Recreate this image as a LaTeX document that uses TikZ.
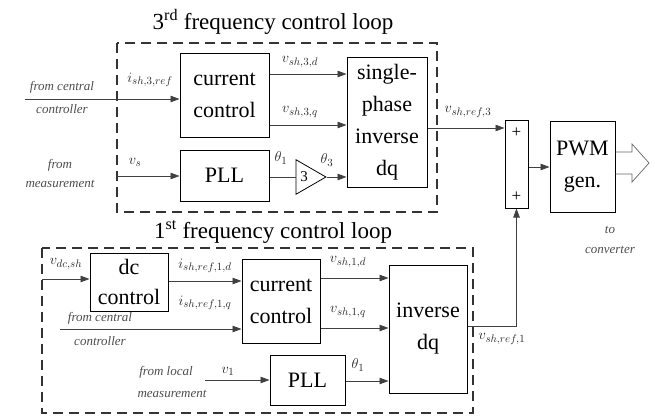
\documentclass[tikz,border=0pt]{standalone}
\usepackage{fontspec}
\setmainfont{Liberation Serif}
\usetikzlibrary{arrows.meta,shapes.geometric}
\begin{document}
\begin{tikzpicture}[x=1pt,y=-1pt,
 blk/.style={draw, line width=1pt, align=center, font=\fontsize{22}{32}\selectfont, inner sep=0pt},
 sig/.style={draw=black!75, line width=0.7pt, -{Triangle[length=9pt,width=6.5pt]}},
 wire/.style={draw=black!75, line width=0.7pt},
 lbl/.style={font=\fontsize{15}{15}\selectfont, text=black!85},
 note/.style={font=\fontsize{13}{14}\selectfont\itshape, text=black!70, align=center},
 looprect/.style={draw=black!80, dash pattern=on 10pt off 6pt, line width=1.4pt},
 ttl/.style={font=\fontsize{23}{23}\selectfont},
]
\useasboundingbox (0,0) rectangle (655,416);
% loops
\draw[looprect] (117,43) rectangle (437,212);
\draw[looprect] (42,248) rectangle (473,413);
\node[ttl] (t3) at (273,22) {3\textsuperscript{rd} frequency control loop};
\node[ttl] (t1) at (273,232) {1\textsuperscript{st} frequency control loop};
% top blocks
\node[blk, minimum width=89pt, minimum height=84pt] (cc3) at (224.5,95) {current\\control};
\node[blk, minimum width=89pt, minimum height=51pt] (pll3) at (224.5,175.5) {PLL};
\node[blk, minimum width=80pt, minimum height=130pt] (sp) at (387,122) {single-\\phase\\inverse\\dq};
\node[draw, line width=0.8pt, isosceles triangle, isosceles triangle apex angle=60, minimum height=30pt, inner sep=1pt, font=\fontsize{15}{15}\selectfont] (g3) at (304,177) {3};
\node[blk, minimum width=23pt, minimum height=88pt] (sum) at (516.5,164) {};
\node[font=\fontsize{17}{17}\selectfont] (p1) at (516.5,133) {+};
\node[font=\fontsize{17}{17}\selectfont] (p2) at (516.5,197) {+};
\node[blk, minimum width=65pt, minimum height=91pt] (pwm) at (582.5,166.5) {PWM\\gen.};
% bottom blocks
\node[blk, minimum width=78pt, minimum height=58pt, font=\fontsize{22}{30}\selectfont] (dc) at (129,282) {dc\\control};
\node[blk, minimum width=78pt, minimum height=84pt] (cc1) at (281,301) {current\\control};
\node[blk, minimum width=75pt, minimum height=50pt] (pll1) at (307.5,380) {PLL};
\node[blk, minimum width=78pt, minimum height=128pt] (inv) at (428,329) {inverse\\dq};
% coordinates
\coordinate (in3) at (25,99);
\coordinate (ins) at (117,176);
\coordinate (vdc) at (42,279);
\coordinate (inc1) at (60,329);
\coordinate (inl) at (205,380);
\coordinate (bend) at (516.5,326);
% top connectors
\draw[sig] (in3) -- (cc3.west |- in3);
\draw[sig] (ins) -- (pll3.west |- ins);
\draw[sig] (cc3.east |- 0,74) -- (sp.west |- 0,74);
\draw[sig] (cc3.east |- 0,125) -- (sp.west |- 0,125);
\draw[wire] (pll3.east |- g3.west) -- (g3.west);
\draw[sig] (g3.east) -- (sp.west |- g3.east);
\draw[sig] (sp.east |- 0,128) -- (sum.west |- 0,128);
\draw[sig] (sum.east |- 0,167) -- (pwm.west |- 0,167);
% hollow output arrow
\draw[black!60, line width=0.7pt] (pwm.east |- 0,152) -- (632,152) -- (632,144) -- (649,163) -- (632,182) -- (632,174) -- (pwm.east |- 0,174);
% bottom connectors
\draw[sig] (vdc) -- (dc.west |- vdc);
\draw[sig] (dc.east |- 0,281) -- (cc1.west |- 0,281);
\draw[sig] (inc1) -- (cc1.west |- inc1);
\draw[sig] (inl) -- (pll1.west |- inl);
\draw[sig] (cc1.east |- 0,278) -- (inv.west |- 0,278);
\draw[sig] (cc1.east |- 0,328) -- (inv.west |- 0,328);
\draw[sig] (pll1.east |- 0,381) -- (inv.west |- 0,381);
\draw[sig] (inv.east |- bend) -- (bend) -- (sum.south);
% labels top
\node[note] (l1) at (62,97) {from central\\[9pt]controller};
\node[note] (l2) at (60,173) {from\\[5pt]measurement};
\node[lbl] (l3) at (150,80) {$i_{sh,3,ref}$};
\node[lbl] (l4) at (135,162) {$v_s$};
\node[lbl] (l5) at (300,62) {$v_{sh,3,d}$};
\node[lbl] (l6) at (300,112) {$v_{sh,3,q}$};
\node[lbl] (l7) at (281,158) {$\theta_1$};
\node[lbl] (l8) at (327,160) {$\theta_3$};
\node[lbl] (l9) at (468,112) {$v_{sh,ref,3}$};
\node[note] (l10) at (610,240) {to\\[6pt]converter};
% labels bottom
\node[lbl] (m1) at (66,264) {$v_{dc,sh}$};
\node[lbl] (m2) at (205,266) {$i_{sh,ref,1,d}$};
\node[lbl] (m3) at (205,303) {$i_{sh,ref,1,q}$};
\node[note] (m4) at (100,329) {from central\\[10pt]controller};
\node[note] (m5) at (166,372) {from local};
\node[lbl] (m6) at (228,371) {$v_1$};
\node[note] (m7) at (172,394) {measurement};
\node[lbl] (m8) at (348,262) {$v_{sh,1,d}$};
\node[lbl] (m9) at (348,312) {$v_{sh,1,q}$};
\node[lbl] (m10) at (358,365) {$\theta_1$};
\node[lbl] (m11) at (502,339) {$v_{sh,ref,1}$};
\end{tikzpicture}
\end{document}
